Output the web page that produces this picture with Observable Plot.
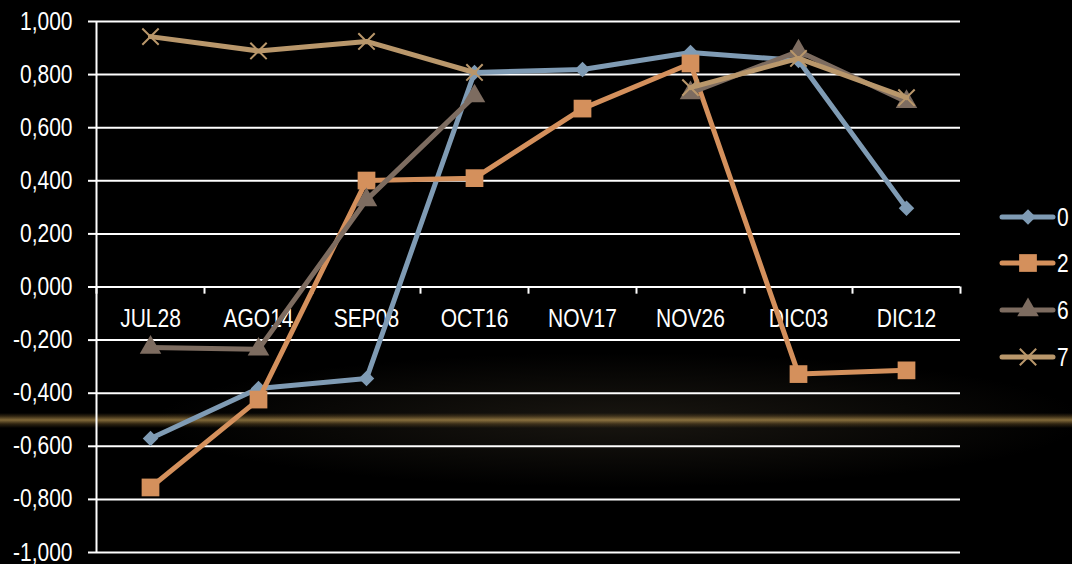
<!DOCTYPE html>
<html><head><meta charset="utf-8">
<script src="https://cdn.jsdelivr.net/npm/d3@7"></script>
<script src="https://cdn.jsdelivr.net/npm/@observablehq/plot@0.6"></script>
<style>
html,body{margin:0;padding:0;background:#000;}
#wrap{position:relative;width:1072px;height:564px;overflow:hidden;background:#000;}
#glow{position:absolute;left:0;top:0;width:1072px;height:564px;
 background:
  linear-gradient(to bottom, rgba(0,0,0,0) 413px, rgba(150,115,55,0.3) 416px, rgba(215,175,95,0.6) 420px, rgba(150,115,55,0.3) 424px, rgba(0,0,0,0) 428px),
  radial-gradient(ellipse 620px 90px at 620px 420px, rgba(100,88,66,0.25), rgba(0,0,0,0) 75%);}
#chart{position:absolute;left:0;top:0;}
#legend{position:absolute;left:0;top:0;}
</style></head>
<body>
<div id="wrap"><div id="glow"></div><div id="chart"></div><svg id="legend" width="1072" height="564"></svg></div>
<script>
const categories = ["JUL28","AGO14","SEP08","OCT16","NOV17","NOV26","DIC03","DIC12"];
const seriesNames = ["0","2","6","7"];
const s0 = [-0.571,-0.382,-0.345,0.808,0.819,0.883,0.853,0.297];
const s2 = [-0.755,-0.424,0.401,0.410,0.672,0.842,-0.328,-0.314];
const s6 = [-0.228,-0.235,0.328,0.719,null,0.731,0.888,0.698];
const s7 = [0.943,0.889,0.925,0.808,null,0.751,0.861,0.713];
const yTicks = [-1,-0.8,-0.6,-0.4,-0.2,0,0.2,0.4,0.6,0.8,1];
const colors = ["#7f9bb4","#d4905c","#7d6c60","#b9976b"];
const symbols = ["diamond2","square","triangle","times"];
const radii = [7,10,8,7.5];

const seriesValues = [s0,s2,s6,s7];
const FONT = '"Liberation Sans",Arial,sans-serif';
const NARROW = 0.84;
const fmt = d3.formatLocale({decimal:",",thousands:".",grouping:[3],currency:["",""],minus:"-"}).format(".3f");

const rows = [];
seriesValues.forEach((vals,si)=>vals.forEach((v,i)=>rows.push({series:seriesNames[si], si, i, cat:categories[i], v})));
const boundaries = categories.map((c,i)=>i-0.5).concat([categories.length-0.5]);

const marks = [
  Plot.ruleY(yTicks, {y:d=>d, stroke:"white", strokeWidth:2}),
  Plot.ruleX([-0.5], {x:d=>d, y1:-1, y2:1, stroke:"white", strokeWidth:2}),
  Plot.ruleX(boundaries, {x:d=>d, y1:0, y2:-0.027, stroke:"white", strokeWidth:2}),
  Plot.axisY({ticks:yTicks, tickSize:8, tickPadding:16, tickFormat:fmt, stroke:"white", strokeWidth:2, fill:"white", fontSize:25, label:null}),
  Plot.text(categories, {x:(d,i)=>i, y:0, text:d=>d, dy:32, fill:"white", fontSize:25, fontFamily:FONT})
];
seriesNames.forEach((name,si)=>{
  const data = rows.filter(r=>r.si===si);
  marks.push(Plot.line(data, {x:"i", y:"v", stroke:colors[si], strokeWidth:5, strokeLinejoin:"round", strokeLinecap:"round"}));
  const pts = data.filter(r=>r.v!=null);
  if (symbols[si]==="times") {
    marks.push(Plot.dot(pts, {x:"i", y:"v", symbol:"times", r:radii[si], stroke:colors[si], strokeWidth:2, fill:"none"}));
  } else {
    marks.push(Plot.dot(pts, {x:"i", y:"v", symbol:symbols[si], r:radii[si], fill:colors[si], stroke:"none"}));
  }
});

const chart = Plot.plot({
  width:1072, height:564,
  marginLeft:96, marginRight:112, marginTop:21, marginBottom:12,
  style:{background:"transparent", fontFamily:FONT, fontSize:"25px", color:"white"},
  x:{type:"linear", domain:[-0.5, categories.length-0.5], axis:null},
  y:{domain:[-1,1], axis:null},
  marks
});
document.getElementById("chart").appendChild(chart);

// legend
const lg = d3.select("#legend");
const ly = [217,263,310,357];
seriesNames.forEach((name,si)=>{
  const g = lg.append("g").attr("transform",`translate(0,${ly[si]})`);
  g.append("line").attr("x1",1002).attr("x2",1053).attr("y1",0).attr("y2",0)
    .attr("stroke",colors[si]).attr("stroke-width",5).attr("stroke-linecap","round");
  const sym = {diamond2:d3.symbolDiamond2, square:d3.symbolSquare, triangle:d3.symbolTriangle, times:d3.symbolTimes}[symbols[si]];
  const p = g.append("path").attr("transform","translate(1028,0)")
    .attr("d", d3.symbol(sym, Math.PI*radii[si]*radii[si])());
  if (symbols[si]==="times") p.attr("fill","none").attr("stroke",colors[si]).attr("stroke-width",2);
  else p.attr("fill",colors[si]);
  g.append("text").attr("x",1057).attr("y",0).attr("dy","0.35em").attr("fill","white")
    .style("font-family",FONT).style("font-size","25px").text(name);
});

// condense text to mimic a narrow face
document.querySelectorAll("#wrap text").forEach(t=>{
  const spans = t.querySelectorAll("tspan");
  const targets = spans.length ? spans : [t];
  targets.forEach(el=>{
    const len = el.getComputedTextLength();
    if (len > 0) {
      el.setAttribute("textLength", (len*NARROW).toFixed(2));
      el.setAttribute("lengthAdjust","spacingAndGlyphs");
    }
  });
});
</script>
</body></html>
